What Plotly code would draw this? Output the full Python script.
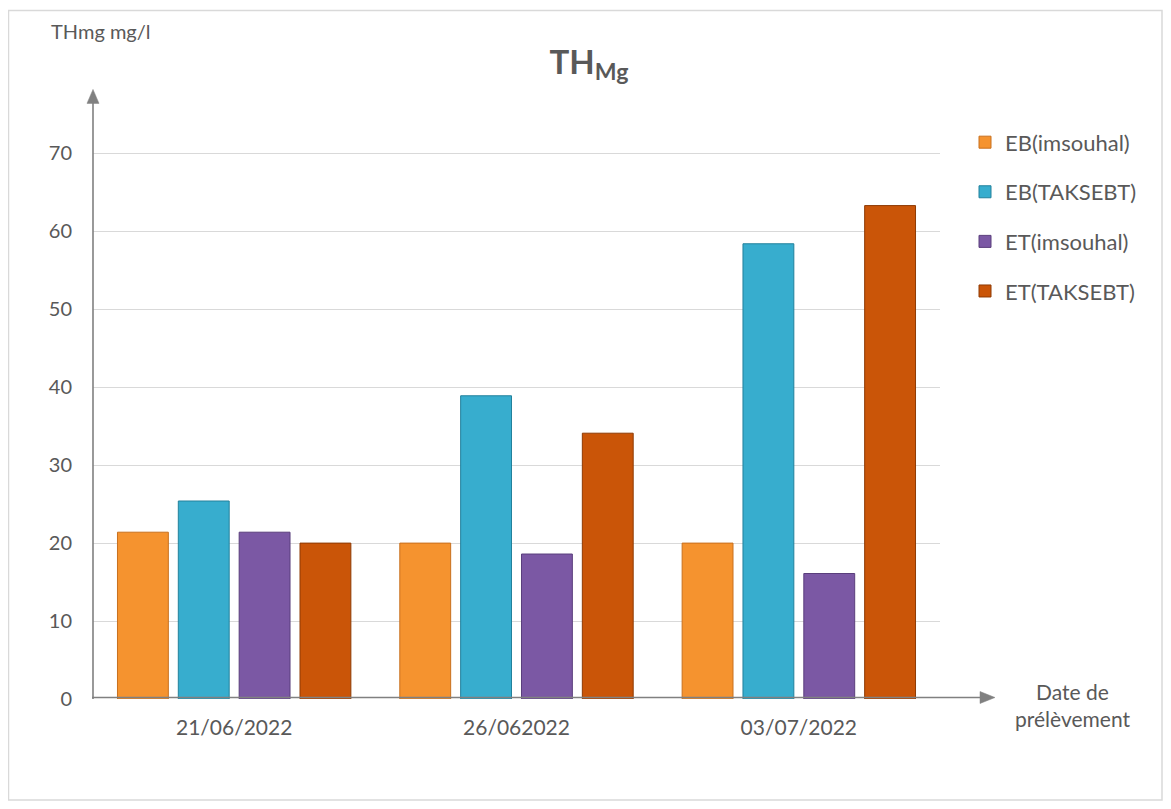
import plotly.graph_objects as go

categories = ["21/06/2022", "26/062022", "03/07/2022"]
series_names = ["EB(imsouhal)", "EB(TAKSEBT)", "ET(imsouhal)", "ET(TAKSEBT)"]
eb_imsouhal = [21.4, 20.0, 20.0]
eb_taksebt = [25.4, 38.9, 58.4]
et_imsouhal = [21.4, 18.6, 16.1]
et_taksebt = [20.0, 34.1, 63.3]
y_ticks = [0, 10, 20, 30, 40, 50, 60, 70]

series_values = [eb_imsouhal, eb_taksebt, et_imsouhal, et_taksebt]
colors = ["#F5932F", "#37ADCE", "#7B58A4", "#CA5508"]
edge_colors = ["#C8701E", "#22819C", "#5A3E7C", "#8E3A04"]

# page has an 8px body margin; work in screen pixels and convert
OFF = 8
W, H = 1171 - 2 * OFF, 809 - 2 * OFF
L, R, T, B = 93 - OFF, 940 - OFF, 90.6 - OFF, 699 - OFF
FONT = "Lato, Open Sans, sans-serif"
TXT = "#595959"
AX = "#808080"

def px_x(X):
    return (X - OFF - L) / (R - L)

def px_y(Y):
    return (B - (Y - OFF)) / (B - T)

fig = go.Figure()
for name, vals, c, ec in zip(series_names, series_values, colors, edge_colors):
    fig.add_trace(go.Bar(
        x=categories, y=vals, name=name, legendgroup=name,
        marker=dict(color=c, line=dict(color=ec, width=1)),
    ))

fig.update_layout(
    width=W, height=H,
    margin=dict(l=L, r=W - R, t=T, b=H - B, pad=0),
    paper_bgcolor="white", plot_bgcolor="white",
    font=dict(family=FONT, color=TXT, size=20),
    barmode="group", bargap=0.138, bargroupgap=0.164,
    title=dict(text="<b>TH<sub>Mg</sub></b>", x=(589 - OFF) / W, xanchor="center",
               y=1 - (62 - OFF) / H, yanchor="middle",
               font=dict(size=33, color=TXT, family=FONT)),
    showlegend=True,
    legend=dict(x=px_x(965), y=px_y(121), xanchor="left", yanchor="top",
                font=dict(size=22, color=TXT), tracegroupgap=18,
                itemwidth=30, bgcolor="rgba(0,0,0,0)"),
    xaxis=dict(range=[-0.5, 2.5], showgrid=False, showline=False, zeroline=False,
               ticks="", tickfont=dict(size=21, color=TXT), ticklabelstandoff=14,
               fixedrange=True),
    yaxis=dict(range=[0, 78], tickvals=y_ticks, showgrid=True, gridcolor="#D9D9D9",
               gridwidth=1.2, showline=False, zeroline=False, ticks="",
               tickfont=dict(size=20, color=TXT), ticklabelstandoff=20),
)

# border around the chart
fig.add_shape(type="rect", xref="paper", yref="paper",
              x0=px_x(8.5), x1=px_x(1162), y0=px_y(800), y1=px_y(10),
              line=dict(color="#D9D9D9", width=1.5), fillcolor="rgba(0,0,0,0)", layer="below")

# axis lines with arrow heads
fig.add_shape(type="line", xref="paper", yref="paper",
              x0=px_x(93), x1=px_x(93), y0=px_y(699), y1=px_y(100),
              line=dict(color=AX, width=1.6))
fig.add_shape(type="path", xref="paper", yref="paper",
              path=f"M {px_x(87)} {px_y(103)} L {px_x(99)} {px_y(103)} L {px_x(93)} {px_y(89)} Z",
              fillcolor=AX, line=dict(color=AX, width=0.5))
fig.add_shape(type="line", xref="paper", yref="paper",
              x0=px_x(92), x1=px_x(984), y0=px_y(697.5), y1=px_y(697.5),
              line=dict(color=AX, width=1.6))
fig.add_shape(type="path", xref="paper", yref="paper",
              path=f"M {px_x(980)} {px_y(691.5)} L {px_x(980)} {px_y(703.5)} L {px_x(995)} {px_y(697.5)} Z",
              fillcolor=AX, line=dict(color=AX, width=0.5))

# axis titles
fig.add_annotation(xref="paper", yref="paper", x=px_x(49), y=px_y(31),
                   xanchor="left", yanchor="middle", showarrow=False,
                   text="THmg mg/l", font=dict(size=20, color=TXT))
fig.add_annotation(xref="paper", yref="paper", x=px_x(1072), y=px_y(705),
                   xanchor="center", yanchor="middle", showarrow=False,
                   text="Date de<br>prélèvement", font=dict(size=21, color=TXT))

fig.write_html("out.html")
